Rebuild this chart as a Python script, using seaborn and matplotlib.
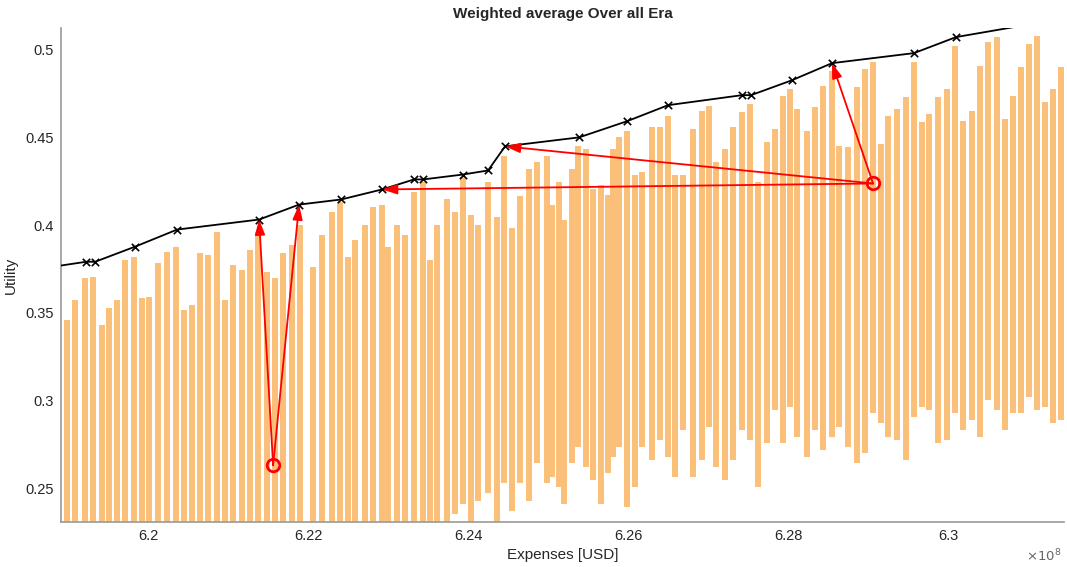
import numpy as np
import pandas as pd
import matplotlib
matplotlib.use('Agg')
import matplotlib.pyplot as plt
import seaborn as sns
from matplotlib.ticker import FormatStrFormatter

# Expenses are in units of 1e8 USD (axis shows x10^8)

# cloud of evaluated designs, one vertical stripe per expense level
stripe_x = [6.18988, 6.19088, 6.19213, 6.19313, 6.19425, 6.19513, 6.19613, 6.19713, 6.19825, 6.19925,
            6.20013, 6.20125, 6.20238, 6.2035, 6.2045, 6.2055, 6.2065, 6.2075, 6.20863, 6.20963,
            6.21063, 6.21175, 6.21275, 6.21375, 6.21488, 6.21588, 6.21688, 6.218, 6.219, 6.22063,
            6.22175, 6.223, 6.224, 6.225, 6.22588, 6.22713, 6.22813, 6.22925, 6.23, 6.23113,
            6.23213, 6.23325, 6.23438, 6.23525, 6.23613, 6.23738, 6.23838, 6.23938, 6.24038, 6.24125,
            6.2425, 6.24363, 6.2445, 6.2455, 6.2465, 6.24763, 6.24863, 6.24988, 6.2505, 6.25138,
            6.252, 6.253, 6.25375, 6.25475, 6.25563, 6.25663, 6.2575, 6.25813, 6.25888, 6.25988,
            6.26088, 6.26175, 6.263, 6.264, 6.265, 6.26588, 6.26688, 6.26813, 6.26925, 6.27013,
            6.271, 6.27213, 6.27313, 6.27425, 6.27525, 6.27625, 6.27738, 6.27838, 6.27938, 6.28025,
            6.28113, 6.28238, 6.28338, 6.28438, 6.2855, 6.28638, 6.2875, 6.28863, 6.28963, 6.29063,
            6.29163, 6.2925, 6.29363, 6.29475, 6.29575, 6.29675, 6.29763, 6.29875, 6.29988, 6.30088,
            6.30188, 6.303, 6.304, 6.305, 6.30613, 6.30713, 6.30813, 6.30913, 6.31013, 6.31113,
            6.31213, 6.31313, 6.31413]
stripe_top = [0.3461, 0.3575, 0.3700, 0.3706, 0.3432, 0.3529, 0.3575, 0.3803, 0.3820, 0.3586,
              0.3592, 0.3786, 0.3848, 0.3877, 0.3518, 0.3546, 0.3843, 0.3831, 0.3962, 0.3575,
              0.3774, 0.3746, 0.3860, 0.3962, 0.3734, 0.3700, 0.3843, 0.3888, 0.4002, 0.3763,
              0.3945, 0.4076, 0.4128, 0.3820, 0.3917, 0.4002, 0.4105, 0.4116, 0.3877, 0.4002,
              0.3945, 0.4185, 0.4242, 0.3803, 0.4002, 0.4145, 0.4076, 0.4270, 0.4059, 0.4002,
              0.4247, 0.4048, 0.4390, 0.3985, 0.4162, 0.4316, 0.4356, 0.4390, 0.4116, 0.4242,
              0.4031, 0.4316, 0.4447, 0.4430, 0.4202, 0.4230, 0.4173, 0.4430, 0.4498, 0.4532,
              0.4287, 0.4299, 0.4555, 0.4555, 0.4618, 0.4287, 0.4287, 0.4544, 0.4647, 0.4675,
              0.4356, 0.4430, 0.4555, 0.4641, 0.4686, 0.4247, 0.4470, 0.4544, 0.4732, 0.4772,
              0.4658, 0.4532, 0.4669, 0.4789, 0.4875, 0.4447, 0.4441, 0.4783, 0.4886, 0.4926,
              0.4458, 0.4618, 0.4658, 0.4726, 0.4926, 0.4584, 0.4629, 0.4726, 0.4772, 0.5017,
              0.4589, 0.4647, 0.4903, 0.5040, 0.5068, 0.4601, 0.4732, 0.4897, 0.5029, 0.5074,
              0.4698, 0.4772, 0.4897]
stripe_bottom = [0.22] * 46 + [
              0.2360, 0.2417, 0.22, 0.2434,
              0.2474, 0.22, 0.2531, 0.2377, 0.2531, 0.2434, 0.2645, 0.2531, 0.2566, 0.2509,
              0.2417, 0.2645, 0.2737, 0.2623, 0.2548, 0.2417, 0.2588, 0.2680, 0.2737, 0.2395,
              0.2509, 0.2737, 0.2662, 0.2777, 0.2680, 0.2566, 0.2834, 0.2566, 0.2662, 0.2851,
              0.2623, 0.2548, 0.2662, 0.2834, 0.2777, 0.2509, 0.2760, 0.2948, 0.2760, 0.2965,
              0.2794, 0.2680, 0.2834, 0.2719, 0.2794, 0.2851, 0.2737, 0.2645, 0.2702, 0.2930,
              0.2873, 0.2794, 0.2777, 0.2662, 0.2908, 0.2965, 0.2948, 0.2760, 0.2777, 0.2930,
              0.2834, 0.2891, 0.2794, 0.3005, 0.2948, 0.2834, 0.2930, 0.2930, 0.3022, 0.2948,
              0.2965, 0.2873, 0.2891]

# weighted-average front (black line), first and last entries have no marker
front_x = [6.1880, 6.19225, 6.19338, 6.19838, 6.20363, 6.21388, 6.21888, 6.22413, 6.22925, 6.23325,
           6.23438, 6.23938, 6.2425, 6.24463, 6.25388, 6.25988, 6.265, 6.27425, 6.27538, 6.2805,
           6.2855, 6.29575, 6.301, 6.30825]
front_y = [0.3762, 0.3791, 0.3791, 0.3877, 0.3974, 0.4031, 0.4116, 0.4145, 0.4202, 0.4259,
           0.4259, 0.4287, 0.4310, 0.4447, 0.4498, 0.4590, 0.4681, 0.4738, 0.4738, 0.4823,
           0.4920, 0.4977, 0.5068, 0.5125]

# highlighted designs and the front points they move to
circle_x = [6.21563, 6.29063]
circle_y = [0.2634, 0.4236]
arrow_from = [0, 0, 1, 1, 1]
arrow_to = [5, 6, 20, 13, 8]

sns.set_style('white')
plt.rcParams['font.family'] = ['Liberation Sans', 'DejaVu Sans']

fig = plt.figure(figsize=(10.67, 5.67), dpi=100)
ax = fig.add_axes([0.0572, 0.0794, 0.9400, 0.8713])

ax.vlines(stripe_x, stripe_bottom, stripe_top, color='#FAC07A', linewidth=4.3, zorder=1)

front = pd.DataFrame({'x': front_x, 'y': front_y})
sns.lineplot(data=front, x='x', y='y', color='black', linewidth=1.3, sort=False, ax=ax, zorder=3)
sns.scatterplot(data=front.iloc[1:-1], x='x', y='y', marker='x', color='black', s=28,
                linewidth=1.2, ax=ax, zorder=4)

for i, j in zip(arrow_from, arrow_to):
    ax.annotate('', xy=(front_x[j], front_y[j]), xytext=(circle_x[i], circle_y[i]),
                arrowprops=dict(arrowstyle='-|>,head_length=0.9,head_width=0.3', color='red',
                                lw=1.3, shrinkA=0, shrinkB=0), zorder=5)

ax.plot(circle_x, circle_y, 'o', mfc='none', mec='red', mew=2, ms=9, zorder=6)

ax.set_xlim(6.18912, 6.3145)
ax.set_ylim(0.2312, 0.512)
ax.set_xticks([6.2, 6.22, 6.24, 6.26, 6.28, 6.3])
ax.set_yticks([0.25, 0.3, 0.35, 0.4, 0.45, 0.5])
ax.xaxis.set_major_formatter(FormatStrFormatter('%g'))
ax.yaxis.set_major_formatter(FormatStrFormatter('%g'))

for side in ['top', 'right']:
    ax.spines[side].set_visible(False)
for side in ['left', 'bottom']:
    ax.spines[side].set_color('#999999')
    ax.spines[side].set_linewidth(1.2)
ax.tick_params(direction='in', length=5, width=0.8, color='#777777', labelsize=10.5,
               labelcolor='#262626', pad=5)

ax.set_title('Weighted average Over all Era', fontsize=11, fontweight='bold', pad=7)
ax.set_xlabel('Expenses [USD]', fontsize=11, color='#262626', labelpad=4)
ax.set_ylabel('Utility', fontsize=11, color='#262626')
ax.yaxis.set_label_coords(-0.043, 0.5)
ax.text(0.997, -0.052, r'$\times10^8$', transform=ax.transAxes, ha='right', va='top',
        fontsize=9.5, color='#666666')

fig.savefig('out.png', dpi=100)
